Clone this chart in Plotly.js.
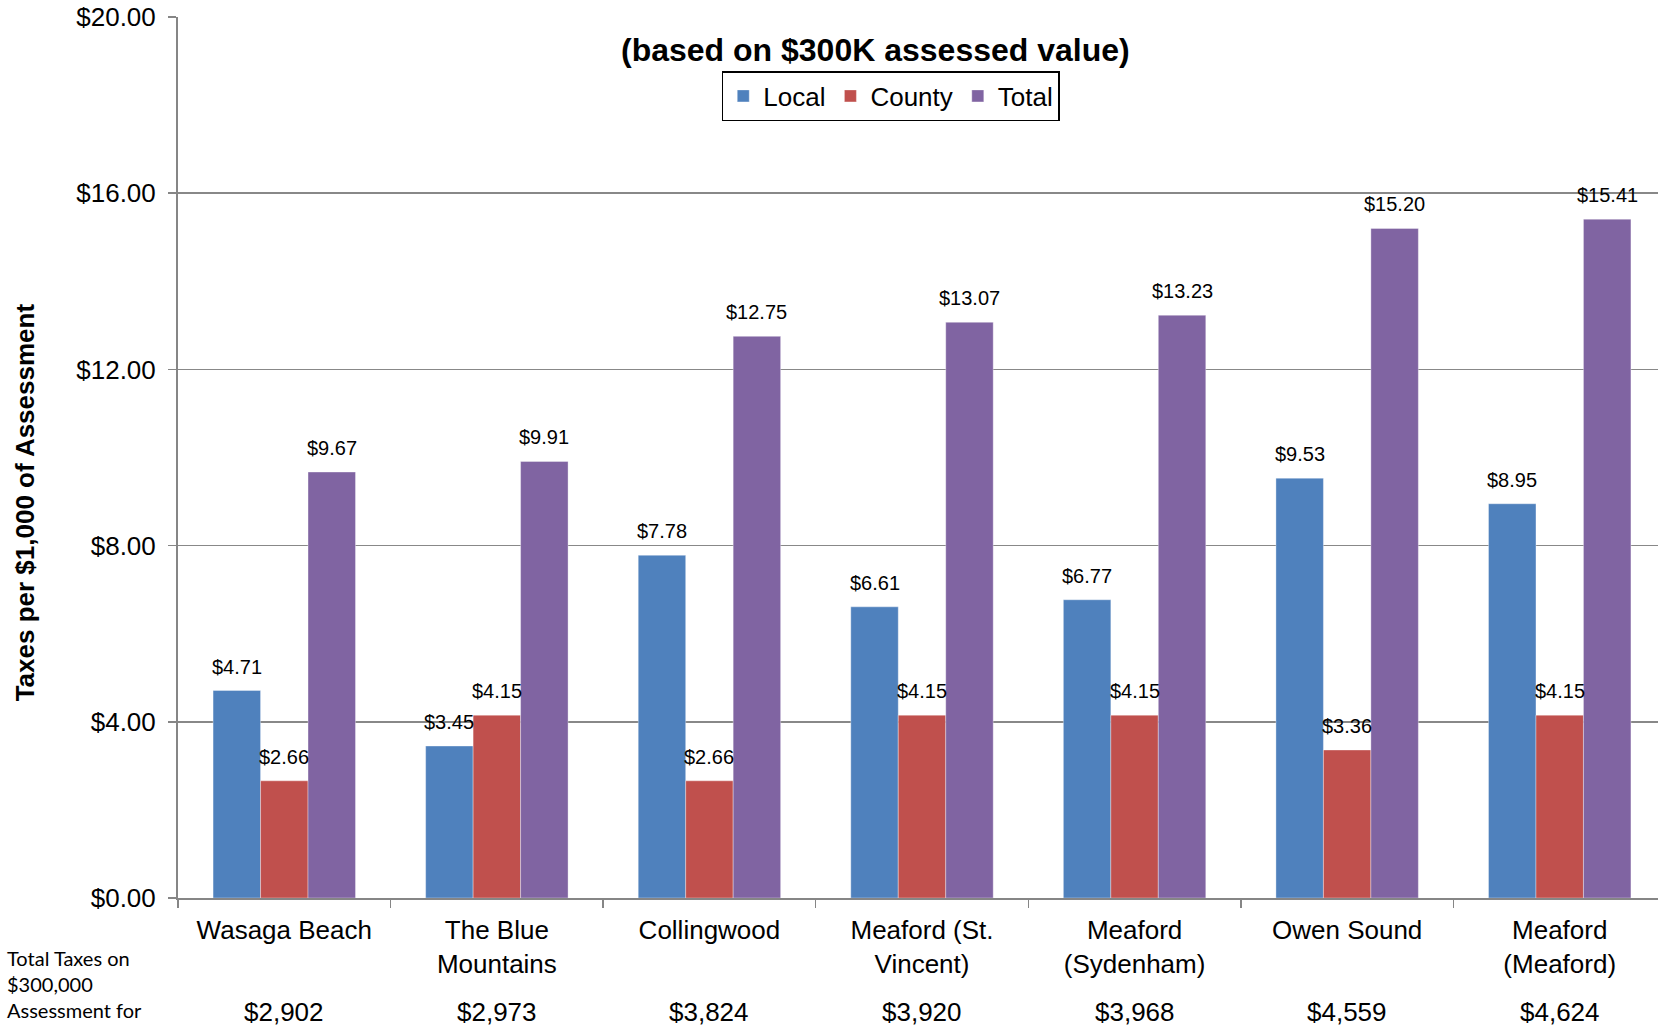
<!DOCTYPE html>
<html>
<head>
<meta charset="utf-8">
<script src="https://cdn.plot.ly/plotly-3.0.1.min.js"></script>
<style>
  html, body { margin: 0; padding: 0; background: #fff; overflow: hidden; }
  #chart { width: 1666px; height: 1028px; }
</style>
</head>
<body>
<div id="chart"></div>
<script>
const categories = ["Wasaga Beach", "The Blue<br>Mountains", "Collingwood", "Meaford (St.<br>Vincent)", "Meaford<br>(Sydenham)", "Owen Sound", "Meaford<br>(Meaford)"];
const localRates = [4.71, 3.45, 7.78, 6.61, 6.77, 9.53, 8.95];
const countyRates = [2.66, 4.15, 2.66, 4.15, 4.15, 3.36, 4.15];
const totalRates = [9.67, 9.91, 12.75, 13.07, 13.23, 15.20, 15.41];
const totalTaxes = ["$2,902", "$2,973", "$3,824", "$3,920", "$3,968", "$4,559", "$4,624"];
const yTickVals = [0, 4, 8, 12, 16, 20];
const yTickText = ["$0.00", "$4.00", "$8.00", "$12.00", "$16.00", "$20.00"];

const series = [
  {name: "Local", values: localRates, color: "#4F81BD"},
  {name: "County", values: countyRates, color: "#C0504D"},
  {name: "Total", values: totalRates, color: "#8064A2"}
];

const BARGAP = 0.33;
const barW = (1 - BARGAP) / series.length;

const traces = series.map(s => ({
  type: "bar",
  name: s.name,
  x: categories,
  y: s.values,
  marker: {color: s.color, line: {color: "rgba(255,255,255,0.35)", width: 1}},
  hoverinfo: "x+y+name"
}));

const annotations = [];
const ARIAL = "Liberation Sans, Arial, sans-serif";
series.forEach((s, i) => {
  const off = (i - (series.length - 1) / 2) * barW;
  s.values.forEach((v, j) => {
    annotations.push({
      x: j + off, y: v, xref: "x", yref: "y",
      text: "$" + v.toFixed(2),
      showarrow: false, xanchor: "center", yanchor: "middle", yshift: 24,
      font: {family: ARIAL, size: 20, color: "#000"}
    });
  });
});

totalTaxes.forEach((t, j) => {
  annotations.push({
    x: j, y: -0.1294, xref: "x", yref: "paper",
    text: t, showarrow: false, xanchor: "center", yanchor: "middle",
    font: {family: ARIAL, size: 26, color: "#000"}
  });
});

annotations.push({
  x: -0.1163, y: -0.052, xref: "paper", yref: "paper",
  text: "Total Taxes on<br>$300,000<br>Assessment for<br>each",
  showarrow: false, xanchor: "left", yanchor: "top", align: "left",
  font: {family: "Lato, Open Sans, sans-serif", size: 20, color: "#000"}
});

annotations.push({
  x: 0.469, y: 0.9625, xref: "paper", yref: "paper",
  text: "<b>(based on $300K assessed value)</b>",
  showarrow: false, xanchor: "center", yanchor: "middle",
  font: {family: ARIAL, size: 32, color: "#000"}
});

annotations.push({
  x: -0.1022, y: 0.449, xref: "paper", yref: "paper",
  text: "<b>Taxes per $1,000 of Assessment</b>",
  textangle: -90,
  showarrow: false, xanchor: "center", yanchor: "middle",
  font: {family: ARIAL, size: 26, color: "#000"}
});

const layout = {
  width: 1666, height: 1028,
  margin: {l: 178, r: 0, t: 17, b: 130},
  paper_bgcolor: "#fff", plot_bgcolor: "#fff",
  barmode: "group", bargap: BARGAP, bargroupgap: 0,
  showlegend: true,
  legend: {
    orientation: "h", x: 0.479, y: 0.9387, xanchor: "center", yanchor: "top",
    bordercolor: "#000", borderwidth: 1.5, bgcolor: "#fff",
    font: {family: ARIAL, size: 26, color: "#000"},
    traceorder: "normal"
  },
  xaxis: {
    type: "category",
    showline: true, linecolor: "#868686", linewidth: 2,
    ticks: "outside", tickson: "boundaries", ticklen: 8, tickcolor: "#868686", tickwidth: 1.5,
    ticklabelstandoff: 8,
    tickfont: {family: ARIAL, size: 26, color: "#000"},
    showgrid: false, zeroline: false, fixedrange: true
  },
  yaxis: {
    range: [0, 20],
    tickvals: yTickVals, ticktext: yTickText,
    showline: true, linecolor: "#868686", linewidth: 2,
    ticks: "outside", ticklen: 8, tickcolor: "#868686", tickwidth: 1.5,
    ticklabelstandoff: 7,
    tickfont: {family: ARIAL, size: 26, color: "#000"},
    showgrid: true, gridcolor: "#888888", gridwidth: 1.5,
    zeroline: false, fixedrange: true
  },
  annotations: annotations
};

Plotly.newPlot("chart", traces, layout, {displayModeBar: false, staticPlot: true});
</script>
</body>
</html>
